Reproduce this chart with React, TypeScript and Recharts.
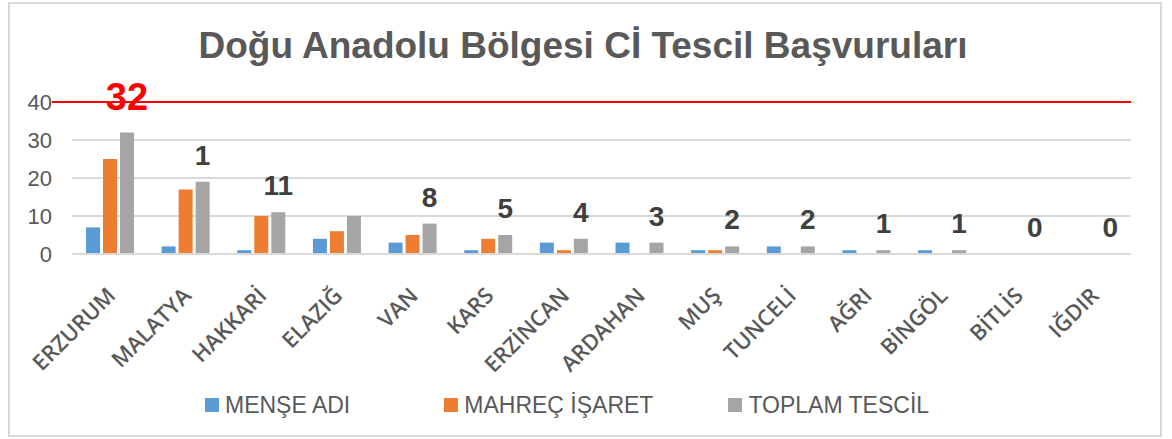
import React from "react";
import { BarChart, Bar, XAxis, YAxis, CartesianGrid, ReferenceLine, Legend, LabelList } from "recharts";

const CATEGORIES = ["ERZURUM", "MALATYA", "HAKKARİ", "ELAZIĞ", "VAN", "KARS", "ERZİNCAN", "ARDAHAN", "MUŞ", "TUNCELİ", "AĞRI", "BİNGÖL", "BİTLİS", "IĞDIR"];
const MENSE_ADI = [7, 2, 1, 4, 3, 1, 3, 3, 1, 2, 1, 1, 0, 0];
const MAHREC_ISARET = [25, 17, 10, 6, 5, 4, 1, 0, 1, 0, 0, 0, 0, 0];
const TOPLAM_TESCIL = [32, 19, 11, 10, 8, 5, 4, 3, 2, 2, 1, 1, 0, 0];
const DATA_LABELS = ["32", "1", "11", "", "8", "5", "4", "3", "2", "2", "1", "1", "0", "0"];
const Y_TICKS = [0, 10, 20, 30, 40];
const TITLE = "Doğu Anadolu Bölgesi Cİ Tescil Başvuruları";

const SERIES = [
  { key: "mense", name: "MENŞE ADI", color: "#5B9BD5" },
  { key: "mahrec", name: "MAHREÇ İŞARET", color: "#ED7D31" },
  { key: "toplam", name: "TOPLAM TESCİL", color: "#A5A5A5" },
];

const data = CATEGORIES.map((c, i) => ({
  name: c,
  mense: MENSE_ADI[i],
  mahrec: MAHREC_ISARET[i],
  toplam: TOPLAM_TESCIL[i],
}));

const XTick = (props: any) => {
  const { x, y, payload } = props;
  return (
    <g transform={`translate(${x + 7},${y + 43}) rotate(-45)`}>
      <text x={0} y={0} textAnchor="end" fill="#595959" fontFamily="'Open Sans', sans-serif" fontWeight={600} fontSize={22}>
        {payload.value}
      </text>
    </g>
  );
};

const TopLabel = (props: any) => {
  const { x, y, width, index } = props;
  const txt = DATA_LABELS[index];
  if (!txt) return null;
  const first = index === 0;
  return (
    <text
      x={x + width / 2}
      y={y - (first ? 22 : 17)}
      textAnchor="middle"
      fill={first ? "#FF0000" : "#404040"}
      fontFamily="'Liberation Sans', Arial, sans-serif"
      fontWeight="bold"
      fontSize={first ? 38 : 28}
    >
      {txt}
    </text>
  );
};

const RedLine = (props: any) => {
  const { x1, y1, x2, y2 } = props;
  return <line x1={x1 - 20} y1={y1} x2={x2} y2={y2} stroke="#FF0000" strokeWidth={2} />;
};

const LegendContent = () => {
  const gaps = [0, 94, 75];
  return (
    <div style={{ display: "flex", alignItems: "center", height: 30, paddingLeft: 205, fontFamily: "'Liberation Sans', Arial, sans-serif", fontSize: 23, color: "#595959" }}>
      {SERIES.map((s, i) => (
        <div key={s.key} style={{ display: "flex", alignItems: "center", marginLeft: gaps[i] }}>
          <div style={{ width: 14, height: 14, background: s.color, marginRight: 6 }} />
          <span style={{ lineHeight: "30px" }}>{s.name}</span>
        </div>
      ))}
    </div>
  );
};

export default function App() {
  return (
    <div style={{ position: "absolute", left: 0, top: 0, width: 1172, height: 439, background: "#fff" }}>
      <div style={{ position: "absolute", left: 8, top: 2, width: 1154, height: 435, border: "2px solid #d9d9d9", boxSizing: "border-box" }} />
      <div style={{ position: "absolute", left: 0, top: 23, width: 1166, textAlign: "center", fontFamily: "'Liberation Sans', Arial, sans-serif", fontWeight: "bold", fontSize: 37, color: "#595959", lineHeight: "46px" }}>
        {TITLE}
      </div>
      <div style={{ position: "absolute", left: 0, top: 0 }}>
        <BarChart width={1172} height={439} data={data} margin={{ top: 102, right: 41, left: 12, bottom: 35 }} barSize={14} barGap={3}>
          <CartesianGrid horizontal vertical={false} stroke="#d9d9d9" strokeWidth={2} />
          <XAxis dataKey="name" interval={0} height={120} tick={<XTick />} tickLine={false} tickSize={0} tickMargin={0} axisLine={{ stroke: "#d9d9d9", strokeWidth: 2 }} />
          <YAxis domain={[0, 40]} ticks={Y_TICKS} width={60} axisLine={false} tickLine={false} tickSize={0} tickMargin={20} tick={{ fill: "#595959", fontSize: 22, fontFamily: "'Liberation Sans', Arial, sans-serif" }} />
          <ReferenceLine y={40} shape={<RedLine />} />
          {SERIES.map((s) => (
            <Bar key={s.key} dataKey={s.key} name={s.name} fill={s.color} isAnimationActive={false} minPointSize={s.key === "toplam" ? 0.01 : 0}>
              {s.key === "toplam" ? <LabelList dataKey="toplam" content={<TopLabel />} /> : null}
            </Bar>
          ))}
          <Legend content={<LegendContent />} wrapperStyle={{ top: 390, left: 0, width: 1172, height: 30 }} />
        </BarChart>
      </div>
    </div>
  );
}
